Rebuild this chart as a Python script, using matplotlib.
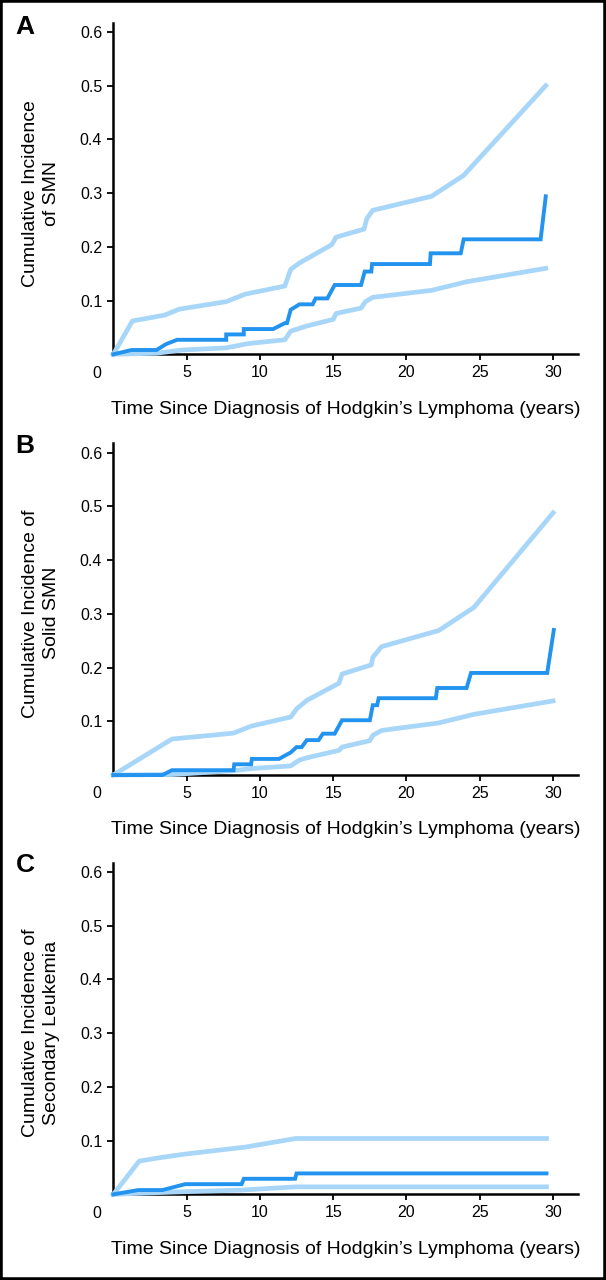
import matplotlib
matplotlib.use('Agg')
import matplotlib.pyplot as plt
from matplotlib.patches import Rectangle

plt.rcParams['font.family'] = ['Liberation Sans', 'DejaVu Sans']

# 数据: 累计发生率 (估计值 + 上下置信限)
a_up_x = [0, 1.3, 3.5, 4.5, 7.7, 9.0, 11.7, 12.1, 12.7, 14.9, 15.2, 17.1, 17.3, 17.7, 21.7, 23.9, 29.5]
a_up_y = [0, 0.062, 0.073, 0.084, 0.098, 0.112, 0.127, 0.158, 0.170, 0.204, 0.218, 0.233, 0.253, 0.268, 0.294, 0.333, 0.500]
a_mid_x = [0, 1.25, 2.95, 3.6, 4.35, 7.7, 7.7, 8.9, 8.9, 10.9, 11.7, 11.85, 12.1, 12.7, 13.6, 13.8, 14.6, 15.1,
           16.9, 17.15, 17.6, 17.65, 21.6, 21.65, 23.7, 23.9, 29.15, 29.5]
a_mid_y = [0, 0.008, 0.008, 0.019, 0.027, 0.027, 0.037, 0.037, 0.047, 0.047, 0.058, 0.058, 0.083, 0.093, 0.093,
           0.104, 0.104, 0.129, 0.129, 0.154, 0.154, 0.168, 0.168, 0.188, 0.188, 0.214, 0.214, 0.294]
a_lo_x = [0, 2.95, 4.7, 7.7, 9.2, 11.7, 12.1, 13.1, 15.0, 15.2, 16.9, 17.2, 17.7, 21.7, 24.1, 29.5]
a_lo_y = [0, 0.002, 0.008, 0.012, 0.020, 0.027, 0.043, 0.052, 0.065, 0.076, 0.086, 0.098, 0.106, 0.119, 0.135, 0.160]

b_up_x = [0, 4.0, 8.2, 9.4, 12.1, 12.5, 13.2, 15.4, 15.6, 17.6, 17.7, 18.3, 22.2, 24.6, 30.0]
b_up_y = [0, 0.067, 0.078, 0.091, 0.108, 0.123, 0.139, 0.171, 0.188, 0.205, 0.219, 0.239, 0.269, 0.312, 0.488]
b_mid_x = [0, 3.35, 4.0, 8.2, 8.25, 9.4, 9.45, 11.3, 12.1, 12.5, 12.85, 13.2, 14.0, 14.3, 15.1, 15.6, 17.5, 17.7,
           18.0, 18.1, 22.0, 22.1, 24.1, 24.4, 29.6, 30.05]
b_mid_y = [0, 0, 0.009, 0.009, 0.020, 0.020, 0.030, 0.030, 0.042, 0.052, 0.052, 0.065, 0.065, 0.077, 0.077,
           0.102, 0.102, 0.130, 0.130, 0.143, 0.143, 0.162, 0.162, 0.190, 0.190, 0.270]
b_lo_x = [0, 4.0, 8.2, 9.4, 12.1, 12.7, 13.2, 15.4, 15.6, 17.5, 17.7, 18.3, 22.2, 24.6, 30.0]
b_lo_y = [0, 0.001, 0.008, 0.012, 0.017, 0.028, 0.032, 0.046, 0.052, 0.064, 0.074, 0.083, 0.097, 0.113, 0.138]

c_up_x = [0, 1.77, 3.35, 4.9, 9.0, 12.45, 29.55]
c_up_y = [0, 0.062, 0.069, 0.075, 0.088, 0.104, 0.104]
c_mid_x = [0, 1.7, 3.35, 4.9, 8.75, 8.9, 12.4, 12.5, 29.55]
c_mid_y = [0, 0.008, 0.008, 0.019, 0.019, 0.029, 0.029, 0.039, 0.039]
c_lo_x = [0, 1.7, 4.9, 8.75, 12.45, 29.55]
c_lo_y = [0, 0.002, 0.005, 0.008, 0.014, 0.014]

letters = ['A', 'B', 'C']
ylabels = ['Cumulative Incidence\nof SMN',
           'Cumulative Incidence of\nSolid SMN',
           'Cumulative Incidence of\nSecondary Leukemia']
xlabel = u'Time Since Diagnosis of Hodgkin\u2019s Lymphoma (years)'
xticks = [5, 10, 15, 20, 25, 30]
yticks = [0.1, 0.2, 0.3, 0.4, 0.5, 0.6]

panels = [(a_up_x, a_up_y, a_mid_x, a_mid_y, a_lo_x, a_lo_y),
          (b_up_x, b_up_y, b_mid_x, b_mid_y, b_lo_x, b_lo_y),
          (c_up_x, c_up_y, c_mid_x, c_mid_y, c_lo_x, c_lo_y)]

dark = '#2293ee'
light = '#a8d6f8'

fig = plt.figure(figsize=(6.06, 12.8), dpi=100)
bottoms = [0.7232, 0.3945, 0.0669]
letter_y = [27, 446, 865]
ylab_y = [0.4855, 0.4875, 0.4864]

for i in range(3):
    ax = fig.add_axes([0.187, bottoms[i], 0.7668, 0.2592])
    ux, uy, mx, my, lx, ly = panels[i]
    ax.plot(ux, uy, color=light, lw=3.4, clip_on=False, zorder=3, solid_joinstyle='round')
    ax.plot(lx, ly, color=light, lw=3.4, clip_on=False, zorder=3, solid_joinstyle='round')
    ax.plot(mx, my, color=dark, lw=2.8, clip_on=False, zorder=4, solid_joinstyle='miter')
    ax.set_xlim(0, 31.7)
    ax.set_ylim(0, 0.6175)
    ax.set_xticks(xticks)
    ax.set_yticks(yticks)
    ax.set_yticklabels(['%.1f' % v for v in yticks])
    for s in ['top', 'right']:
        ax.spines[s].set_visible(False)
    for s in ['left', 'bottom']:
        ax.spines[s].set_linewidth(1.8)
    ax.tick_params(length=4, width=1.3, labelsize=11.5, pad=4)
    ax.text(-0.036, -0.057, '0', transform=ax.transAxes, ha='center', va='center', fontsize=11.5)
    ax.text(-0.156, ylab_y[i], ylabels[i], transform=ax.transAxes, rotation=90,
            ha='center', va='center', multialignment='center', fontsize=14, linespacing=1.3)
    ax.text(0.5, -0.165, xlabel, transform=ax.transAxes, ha='center', va='center',
            fontsize=14, family=['Liberation Sans Narrow', 'Liberation Sans', 'DejaVu Sans'])
    fig.text(25 / 606., 1 - letter_y[i] / 1280., letters[i], ha='center', va='center',
             fontsize=19, fontweight='bold')

fig.patches.append(Rectangle((0, 0), 1, 1, transform=fig.transFigure, fill=False,
                             lw=4, ec='black'))
fig.savefig('out.png', dpi=100)
